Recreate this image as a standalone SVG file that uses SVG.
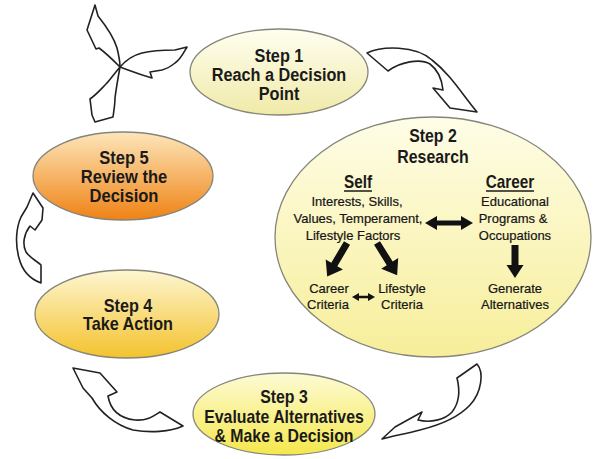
<svg xmlns="http://www.w3.org/2000/svg" width="595" height="459" viewBox="0 0 595 459">
<defs>
<linearGradient id="g1" x1="0" y1="0" x2="0" y2="1"><stop offset="0" stop-color="#fefef0"/><stop offset="1" stop-color="#f0eaa8"/></linearGradient>
<linearGradient id="g2" x1="0" y1="0" x2="0" y2="1"><stop offset="0" stop-color="#fefde6"/><stop offset="1" stop-color="#f7ee9a"/></linearGradient>
<linearGradient id="g3" x1="0" y1="0" x2="0" y2="1"><stop offset="0" stop-color="#fdfbd6"/><stop offset="1" stop-color="#f5e74c"/></linearGradient>
<linearGradient id="g4" x1="0" y1="0" x2="0" y2="1"><stop offset="0" stop-color="#fdf6d2"/><stop offset="1" stop-color="#f4c22c"/></linearGradient>
<linearGradient id="g5" x1="0" y1="0" x2="0" y2="1"><stop offset="0" stop-color="#fde6ba"/><stop offset="1" stop-color="#ef8214"/></linearGradient>
</defs>
<style>
.el{stroke:#85857a;stroke-width:1.3}
.h{font-family:"Liberation Sans",Arial,sans-serif;font-weight:bold;font-size:18px;fill:#1a1a1a;text-anchor:middle}
.s{font-family:"Liberation Sans",Arial,sans-serif;font-size:13px;fill:#151515;text-anchor:middle;stroke:#151515;stroke-width:0.2}
.sk{fill:#ffffff;stroke:#222;stroke-width:1.6;stroke-linejoin:round}
.bk{fill:#111;stroke:none}
.ul{stroke:#1a1a1a;stroke-width:1.5}
</style>
<rect width="595" height="459" fill="#ffffff"/>

<g id="step1">
<ellipse class="el" cx="279" cy="72" rx="89" ry="43" fill="url(#g1)"/>
<g transform="translate(279,0) scale(0.93,1)">
<text class="h" x="0" y="62" style="font-size:17.5px">Step 1</text>
<text class="h" x="0" y="81" style="font-size:17.5px">Reach a Decision</text>
<text class="h" x="0" y="100" style="font-size:17.5px">Point</text>
</g>
</g>

<g id="step2">
<ellipse class="el" cx="433" cy="237" rx="158" ry="120" fill="url(#g2)"/>
<g transform="translate(433,0) scale(0.88,1)">
<text class="h" x="0" y="142">Step 2</text>
<text class="h" x="0" y="163">Research</text>
</g>
<g transform="translate(358,0) scale(0.85,1)"><text class="h" x="0" y="188">Self</text></g>
<line class="ul" x1="344" y1="191" x2="372" y2="191"/>
<g transform="translate(510,0) scale(0.85,1)"><text class="h" x="0" y="188">Career</text></g>
<line class="ul" x1="486" y1="191" x2="534" y2="191"/>
<text class="s" x="357" y="206">Interests, Skills,</text>
<text class="s" x="358" y="223">Values, Temperament,</text>
<text class="s" x="353" y="240">Lifestyle Factors</text>
<text class="s" x="515" y="206">Educational</text>
<text class="s" x="513" y="223">Programs &amp;</text>
<text class="s" x="515" y="240">Occupations</text>
<text class="s" x="329" y="293">Career</text>
<text class="s" x="328" y="309">Criteria</text>
<text class="s" x="402" y="293">Lifestyle</text>
<text class="s" x="402" y="309">Criteria</text>
<text class="s" x="515" y="293">Generate</text>
<text class="s" x="515" y="309">Alternatives</text>
</g>

<g id="step3">
<ellipse class="el" cx="284" cy="414" rx="91" ry="41" fill="url(#g3)"/>
<g transform="translate(284,0) scale(0.88,1)">
<text class="h" x="0" y="403">Step 3</text>
<text class="h" x="0" y="423">Evaluate Alternatives</text>
<text class="h" x="0" y="442">&amp; Make a Decision</text>
</g>
</g>

<g id="step4">
<ellipse class="el" cx="127" cy="314" rx="92" ry="44" fill="url(#g4)"/>
<g transform="translate(128,0) scale(0.9,1)">
<text class="h" x="0" y="312">Step 4</text>
<text class="h" x="0" y="330">Take Action</text>
</g>
</g>

<g id="step5">
<ellipse class="el" cx="123" cy="176" rx="90" ry="44" fill="url(#g5)"/>
<g transform="translate(124,0) scale(0.92,1)">
<text class="h" x="0" y="164">Step 5</text>
<text class="h" x="0" y="183">Review the</text>
<text class="h" x="0" y="202">Decision</text>
</g>
</g>

<g id="connectors">
<path id="a12" class="sk" d="M367,53 C382,46 415,45 432,60 C450,74 462,94 477,112 L450,108 L433,88 L443,90 C442,80 438,70 430,64 C420,58 400,62 388,71 Z"/>
<path id="a23" class="sk" d="M477,364 C484,372 482,392 470,405 C458,418 440,425 420,430 C405,434 392,436 382,439 L395,427 L422,412 L418,420 C430,423 445,420 452,412 C460,402 460,390 457,378 Z"/>
<path id="a34" class="sk" d="M73,368 L100,373 L117,392 L108,396 C110,408 118,418 135,420 C148,421 155,415 160,412 L183,426 C170,432 150,433 133,430 C115,425 100,412 92,398 L83,388 Z"/>
<path id="a45" class="sk" d="M33,193 L43,208 L42,220 L35,230 L30,226 C24,234 22,244 26,252 C30,258 38,262 41,265 L41,283 C30,279 22,270 19,258 C15,244 16,228 21,217 L27,207 Z"/>
<g id="a51">
<path class="sk" d="M95,5 L98,16 C106,26 114,38 117,48 C119,56 120,62 120,67 C113,60 106,53 99,48 L96,49 L87,30 Z"/>
<path class="sk" d="M120,67 C126,60 134,55 142,53 C150,51 162,50 175,50 L187,47 C183,54 180,60 175,63 C170,67 166,69 162,70 L150,72 L152,78 C145,76 136,73 128,70 Z"/>
<path class="sk" d="M120,67 C114,74 110,80 106,84 C102,88 97,94 90,99 L92,115 L95,122 L113,117 C114,110 115,104 115,98 C116,90 118,78 120,67 Z"/>
</g>
<path id="d1" class="bk" d="M425,223 L437,216 L437,220.5 L461,220.5 L461,216 L473,223 L461,230 L461,225.5 L437,225.5 L437,230 Z"/>
<path id="d2" class="bk" d="M0,-3.5 L25,-3.5 L25,-10 L39,0 L25,10 L25,3.5 L0,3.5 Z" transform="translate(347,243) rotate(120.5)"/>
<path id="d3" class="bk" d="M0,-3.5 L24,-3.5 L24,-10 L38,0 L24,10 L24,3.5 L0,3.5 Z" transform="translate(377,243) rotate(58)"/>
<path id="d4" class="bk" d="M0,-3.5 L20,-3.5 L20,-8.5 L33,0 L20,8.5 L20,3.5 L0,3.5 Z" transform="translate(515,245) rotate(90)"/>
<path id="d5" class="bk" d="M352,297 L359,293 L359,295.8 L368,295.8 L368,293 L375,297 L368,301 L368,298.2 L359,298.2 L359,301 Z"/>
</g>
</svg>
